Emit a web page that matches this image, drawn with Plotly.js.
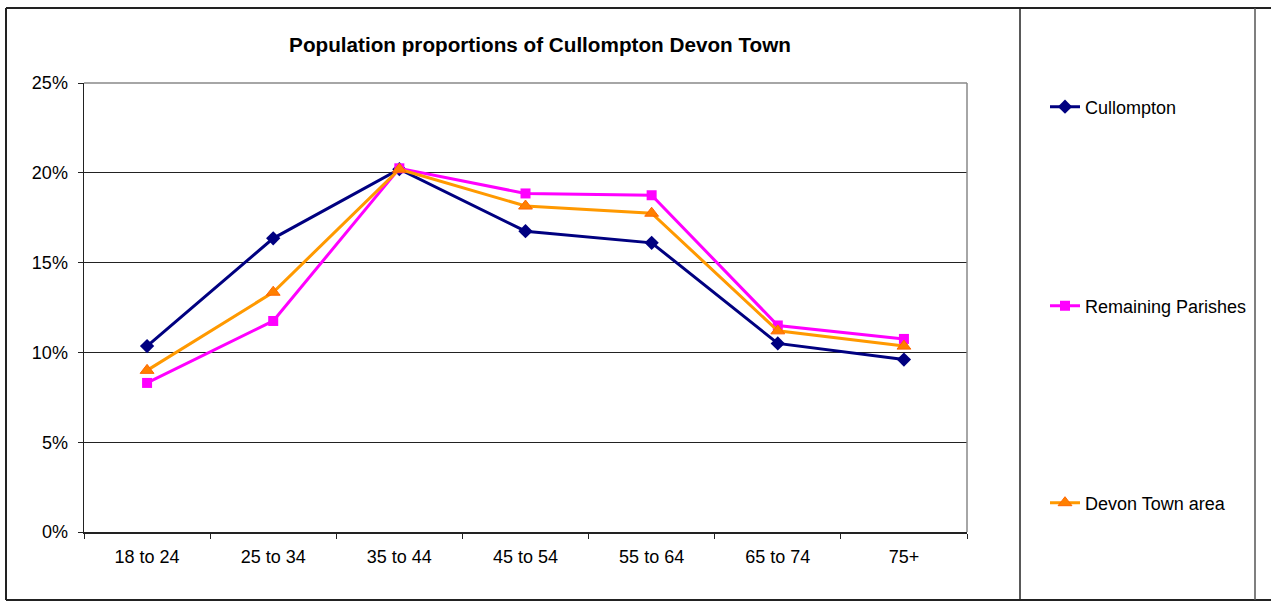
<!DOCTYPE html>
<html>
<head>
<meta charset="utf-8">
<script src="https://cdn.plot.ly/plotly-3.0.1.min.js"></script>
<style>html,body{margin:0;padding:0;background:#fff;}#chart{width:1271px;height:602px;}</style>
</head>
<body>
<div id="chart"></div>
<script>
// ---- data ----
var categories = ["18 to 24", "25 to 34", "35 to 44", "45 to 54", "55 to 64", "65 to 74", "75+"];
var cullompton = [10.35, 16.35, 20.2, 16.75, 16.1, 10.5, 9.6];
var remainingParishes = [8.3, 11.75, 20.25, 18.85, 18.75, 11.5, 10.75];
var devonTownArea = [9.0, 13.35, 20.2, 18.15, 17.75, 11.2, 10.35];
var seriesNames = ["Cullompton", "Remaining Parishes", "Devon Town area"];
var yTickValues = [0, 5, 10, 15, 20, 25];
var yTickLabels = ["0%", "5%", "10%", "15%", "20%", "25%"];
var chartTitle = "Population proportions of Cullompton Devon Town";

// ---- layout helpers (pixel -> paper) ----
var W = 1271, H = 602;
var PL = 84, PR = 967, PT = 83, PB = 532;
function px(x) { return (x - PL) / (PR - PL); }
function py(y) { return (PB - y) / (PB - PT); }
var FONT = "Liberation Sans, Arial, sans-serif";

var traces = [
  {
    x: categories, y: cullompton, name: seriesNames[0], type: "scatter", mode: "lines+markers",
    line: {color: "#000080", width: 3},
    marker: {symbol: "diamond", size: 11, color: "#000080"},
    legend: "legend"
  },
  {
    x: categories, y: remainingParishes, name: seriesNames[1], type: "scatter", mode: "lines+markers",
    line: {color: "#FF00FF", width: 3},
    marker: {symbol: "square", size: 10, color: "#FF00FF"},
    legend: "legend2"
  },
  {
    x: categories, y: devonTownArea, name: seriesNames[2], type: "scatter", mode: "lines+markers",
    line: {color: "#FF9900", width: 3},
    marker: {symbol: "triangle-up", size: 12, color: "#FF8000", line: {color: "#FF6600", width: 1}},
    legend: "legend3"
  }
];

function legendAt(yPix) {
  return {
    x: px(1045), xanchor: "left", xref: "paper",
    y: py(yPix), yanchor: "middle", yref: "paper",
    bgcolor: "rgba(0,0,0,0)", borderwidth: 0,
    font: {family: FONT, size: 18, color: "#000"},
    itemwidth: 30
  };
}

var frame = {type: "line", xref: "paper", yref: "paper", line: {color: "#222", width: 2}};
function seg(x0, y0, x1, y1, extra) {
  var s = Object.assign({}, frame, {x0: px(x0), y0: py(y0), x1: px(x1), y1: py(y1)});
  if (extra) s.line = extra;
  return s;
}

var layout = {
  width: W, height: H,
  margin: {l: PL, r: W - PR, t: PT, b: H - PB, autoexpand: false},
  paper_bgcolor: "#fff", plot_bgcolor: "#fff",
  font: {family: FONT, size: 18, color: "#000"},
  title: {
    text: "<b>" + chartTitle + "</b>",
    font: {family: FONT, size: 20.7, color: "#000"},
    x: px(540), xref: "paper", xanchor: "center",
    y: 1 - 45 / H, yref: "container", yanchor: "middle"
  },
  xaxis: {
    type: "category",
    showline: true, linecolor: "#222", linewidth: 1.5,
    ticks: "outside", ticklen: 5, tickcolor: "#222", tickwidth: 1,
    tickson: "boundaries",
    ticklabelstandoff: 8,
    showgrid: false, zeroline: false,
    tickfont: {family: FONT, size: 18, color: "#000"},
    range: [-0.5, 6.5]
  },
  yaxis: {
    range: [0, 25], tickmode: "array", tickvals: yTickValues, ticktext: yTickLabels,
    showline: true, linecolor: "#222", linewidth: 1.5,
    ticks: "outside", ticklen: 5, tickcolor: "#222",
    ticklabelstandoff: 6,
    showgrid: true, gridcolor: "#222", gridwidth: 1,
    zeroline: false,
    tickfont: {family: FONT, size: 18, color: "#000"}
  },
  showlegend: true,
  legend: legendAt(107),
  legend2: legendAt(306),
  legend3: legendAt(503),
  shapes: [
    // plot area border top & right (grey)
    {type: "line", xref: "paper", yref: "paper", x0: 0, x1: 1, y0: 1, y1: 1, line: {color: "#888", width: 1.5}},
    {type: "line", xref: "paper", yref: "paper", x0: 1, x1: 1, y0: 0, y1: 1, line: {color: "#888", width: 1.5}},
    // outer frame
    seg(6, 8, W, 8),
    seg(6, 600, W, 600),
    seg(6, 8, 6, 600),
    seg(1020, 8, 1020, 600, {color: "#222", width: 1.5}),
    seg(1255, 8, 1255, 600, {color: "#555", width: 1.5})
  ]
};

Plotly.newPlot("chart", traces, layout, {displayModeBar: false, staticPlot: true});
</script>
</body>
</html>
